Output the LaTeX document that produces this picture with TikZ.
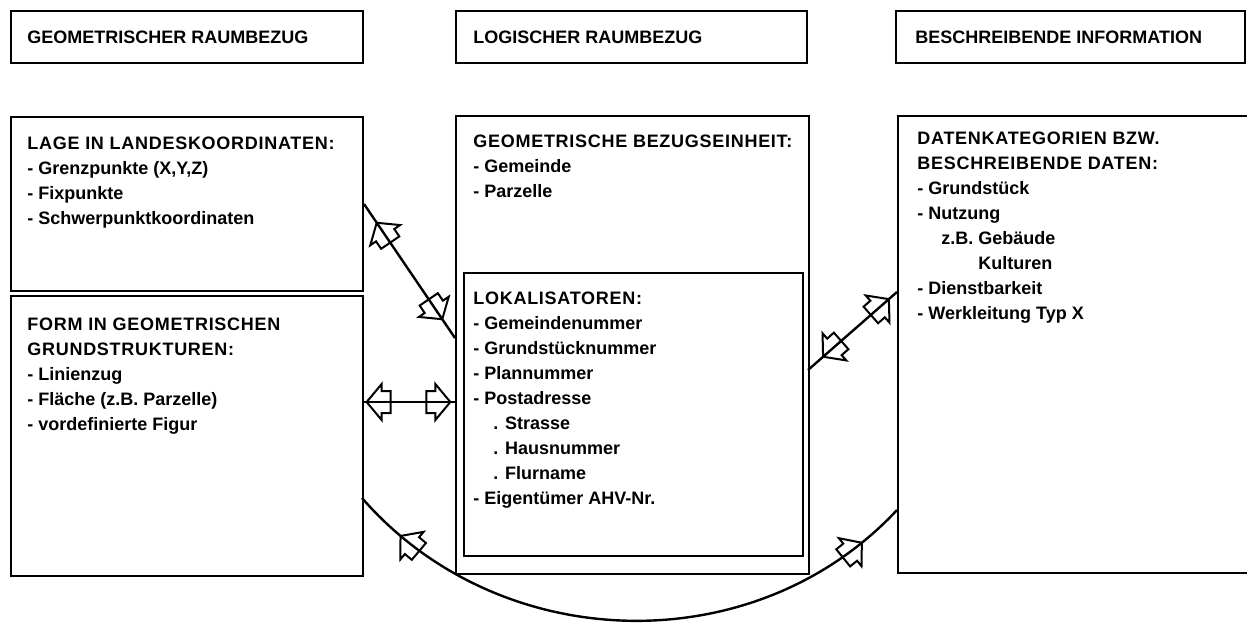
\documentclass[tikz,border=0pt]{standalone}
\usepackage{fontspec}
\setmainfont{Liberation Sans}
\usetikzlibrary{decorations.markings}

\newcommand{\sperr}[1]{{\addfontfeature{LetterSpace=4}#1}}

\tikzset{
  blockspitze/.pic={\draw[line width=1pt, line join=miter] (0,0) -- (-7.5pt,9pt) -- (-7.5pt,5.5pt) -- (-12pt,5.5pt) -- (-12pt,-5.5pt) -- (-7.5pt,-5.5pt) -- (-7.5pt,-9pt) -- cycle;},
  bezug/.style 2 args={line width=1.2pt, postaction={decorate, decoration={markings,
      mark=at position #1 with {\pic[transform shape, xscale=-1]{blockspitze};},
      mark=at position #2 with {\pic[transform shape]{blockspitze};}}}},
  rahmen/.style={draw, line width=1pt, rectangle, inner sep=0pt, anchor=north west},
  feldtext/.style={anchor=north west, inner sep=0pt, align=left, font=\fontsize{9}{12.5}\selectfont\bfseries},
}

\begin{document}
\begin{tikzpicture}[x=0.5pt, y=0.5pt]

\useasboundingbox (0,0) rectangle (1247,-627);

% Kopfzeilen
\node [rahmen, minimum width=176pt, minimum height=26pt] (kopf1) at (10,-10) {};
\node [rahmen, minimum width=175.5pt, minimum height=26pt] (kopf2) at (455,-10) {};
\node [rahmen, minimum width=174.5pt, minimum height=26pt] (kopf3) at (895,-10) {};

\node [feldtext, anchor=west] (kopf1-t) at ([xshift=8.5pt]kopf1.west) {GEOMETRISCHER RAUMBEZUG};
\node [feldtext, anchor=west] (kopf2-t) at ([xshift=9pt]kopf2.west) {LOGISCHER RAUMBEZUG};
\node [feldtext, anchor=west] (kopf3-t) at ([xshift=10pt]kopf3.west) {BESCHREIBENDE INFORMATION};

% Felder
\node [rahmen, minimum width=176pt, minimum height=87pt] (lage) at (10,-116) {};
\node [rahmen, minimum width=176pt, minimum height=140pt] (form) at (10,-295) {};
\node [rahmen, minimum width=176.5pt, minimum height=229pt] (einheit) at (455,-115) {};
\node [rahmen, minimum width=169.5pt, minimum height=141.5pt] (lok) at (463,-272) {};
\node [rahmen, minimum width=180pt, minimum height=228.5pt] (daten) at (897,-115) {};

\node [feldtext] (lage-t) at ([xshift=8.5pt, yshift=-10.5pt]lage.north west)
  {\sperr{LAGE IN LANDESKOORDINATEN:}\\- Grenzpunkte (X,Y,Z)\\- Fixpunkte\\- Schwerpunktkoordinaten};
\node [feldtext] (form-t) at ([xshift=8.5pt, yshift=-11.5pt]form.north west)
  {\sperr{FORM IN GEOMETRISCHEN}\\\sperr{GRUNDSTRUKTUREN:}\\- Linienzug\\- Fläche (z.B. Parzelle)\\- vordefinierte Figur};
\node [feldtext] (einheit-t) at ([xshift=9pt, yshift=-10pt]einheit.north west)
  {\sperr{GEOMETRISCHE BEZUGSEINHEIT:}\\- Gemeinde\\- Parzelle};
\node [feldtext] (lok-t) at ([xshift=5pt, yshift=-10pt]lok.north west)
  {\sperr{LOKALISATOREN:}\\- Gemeindenummer\\- Grundstücknummer\\- Plannummer\\- Postadresse\\
   \hspace*{10pt}. Strasse\\\hspace*{10pt}. Hausnummer\\\hspace*{10pt}. Flurname\\- Eigentümer AHV-Nr.};
\node [feldtext] (daten-t) at ([xshift=10pt, yshift=-8.5pt]daten.north west)
  {\sperr{DATENKATEGORIEN BZW.}\\\sperr{BESCHREIBENDE DATEN:}\\- Grundstück\\- Nutzung\\
   \hspace*{12pt}z.B. Gebäude\\\hspace*{12pt}\phantom{z.B. }Kulturen\\- Dienstbarkeit\\- Werkleitung Typ X};

% Enden der Bezuege
\coordinate (a1) at (455,-338);
\coordinate (f1) at (362,-402);
\coordinate (a2) at (455,-402);
\coordinate (b1) at (808,-370);
\coordinate (b2) at (897,-292);
\coordinate (c1) at (362,-498);
\coordinate (c2) at (897,-510);

\draw [bezug={0.14}{0.86}] (lage.east) -- (a1);
\draw [bezug={0.05}{0.95}] (f1) -- (a2);
\draw [bezug={0.17}{0.91}] (b1) -- (b2);
\draw [bezug={0.09}{0.92}] (c1) to [out=-49, in=-133] (c2);

\end{tikzpicture}
\end{document}
